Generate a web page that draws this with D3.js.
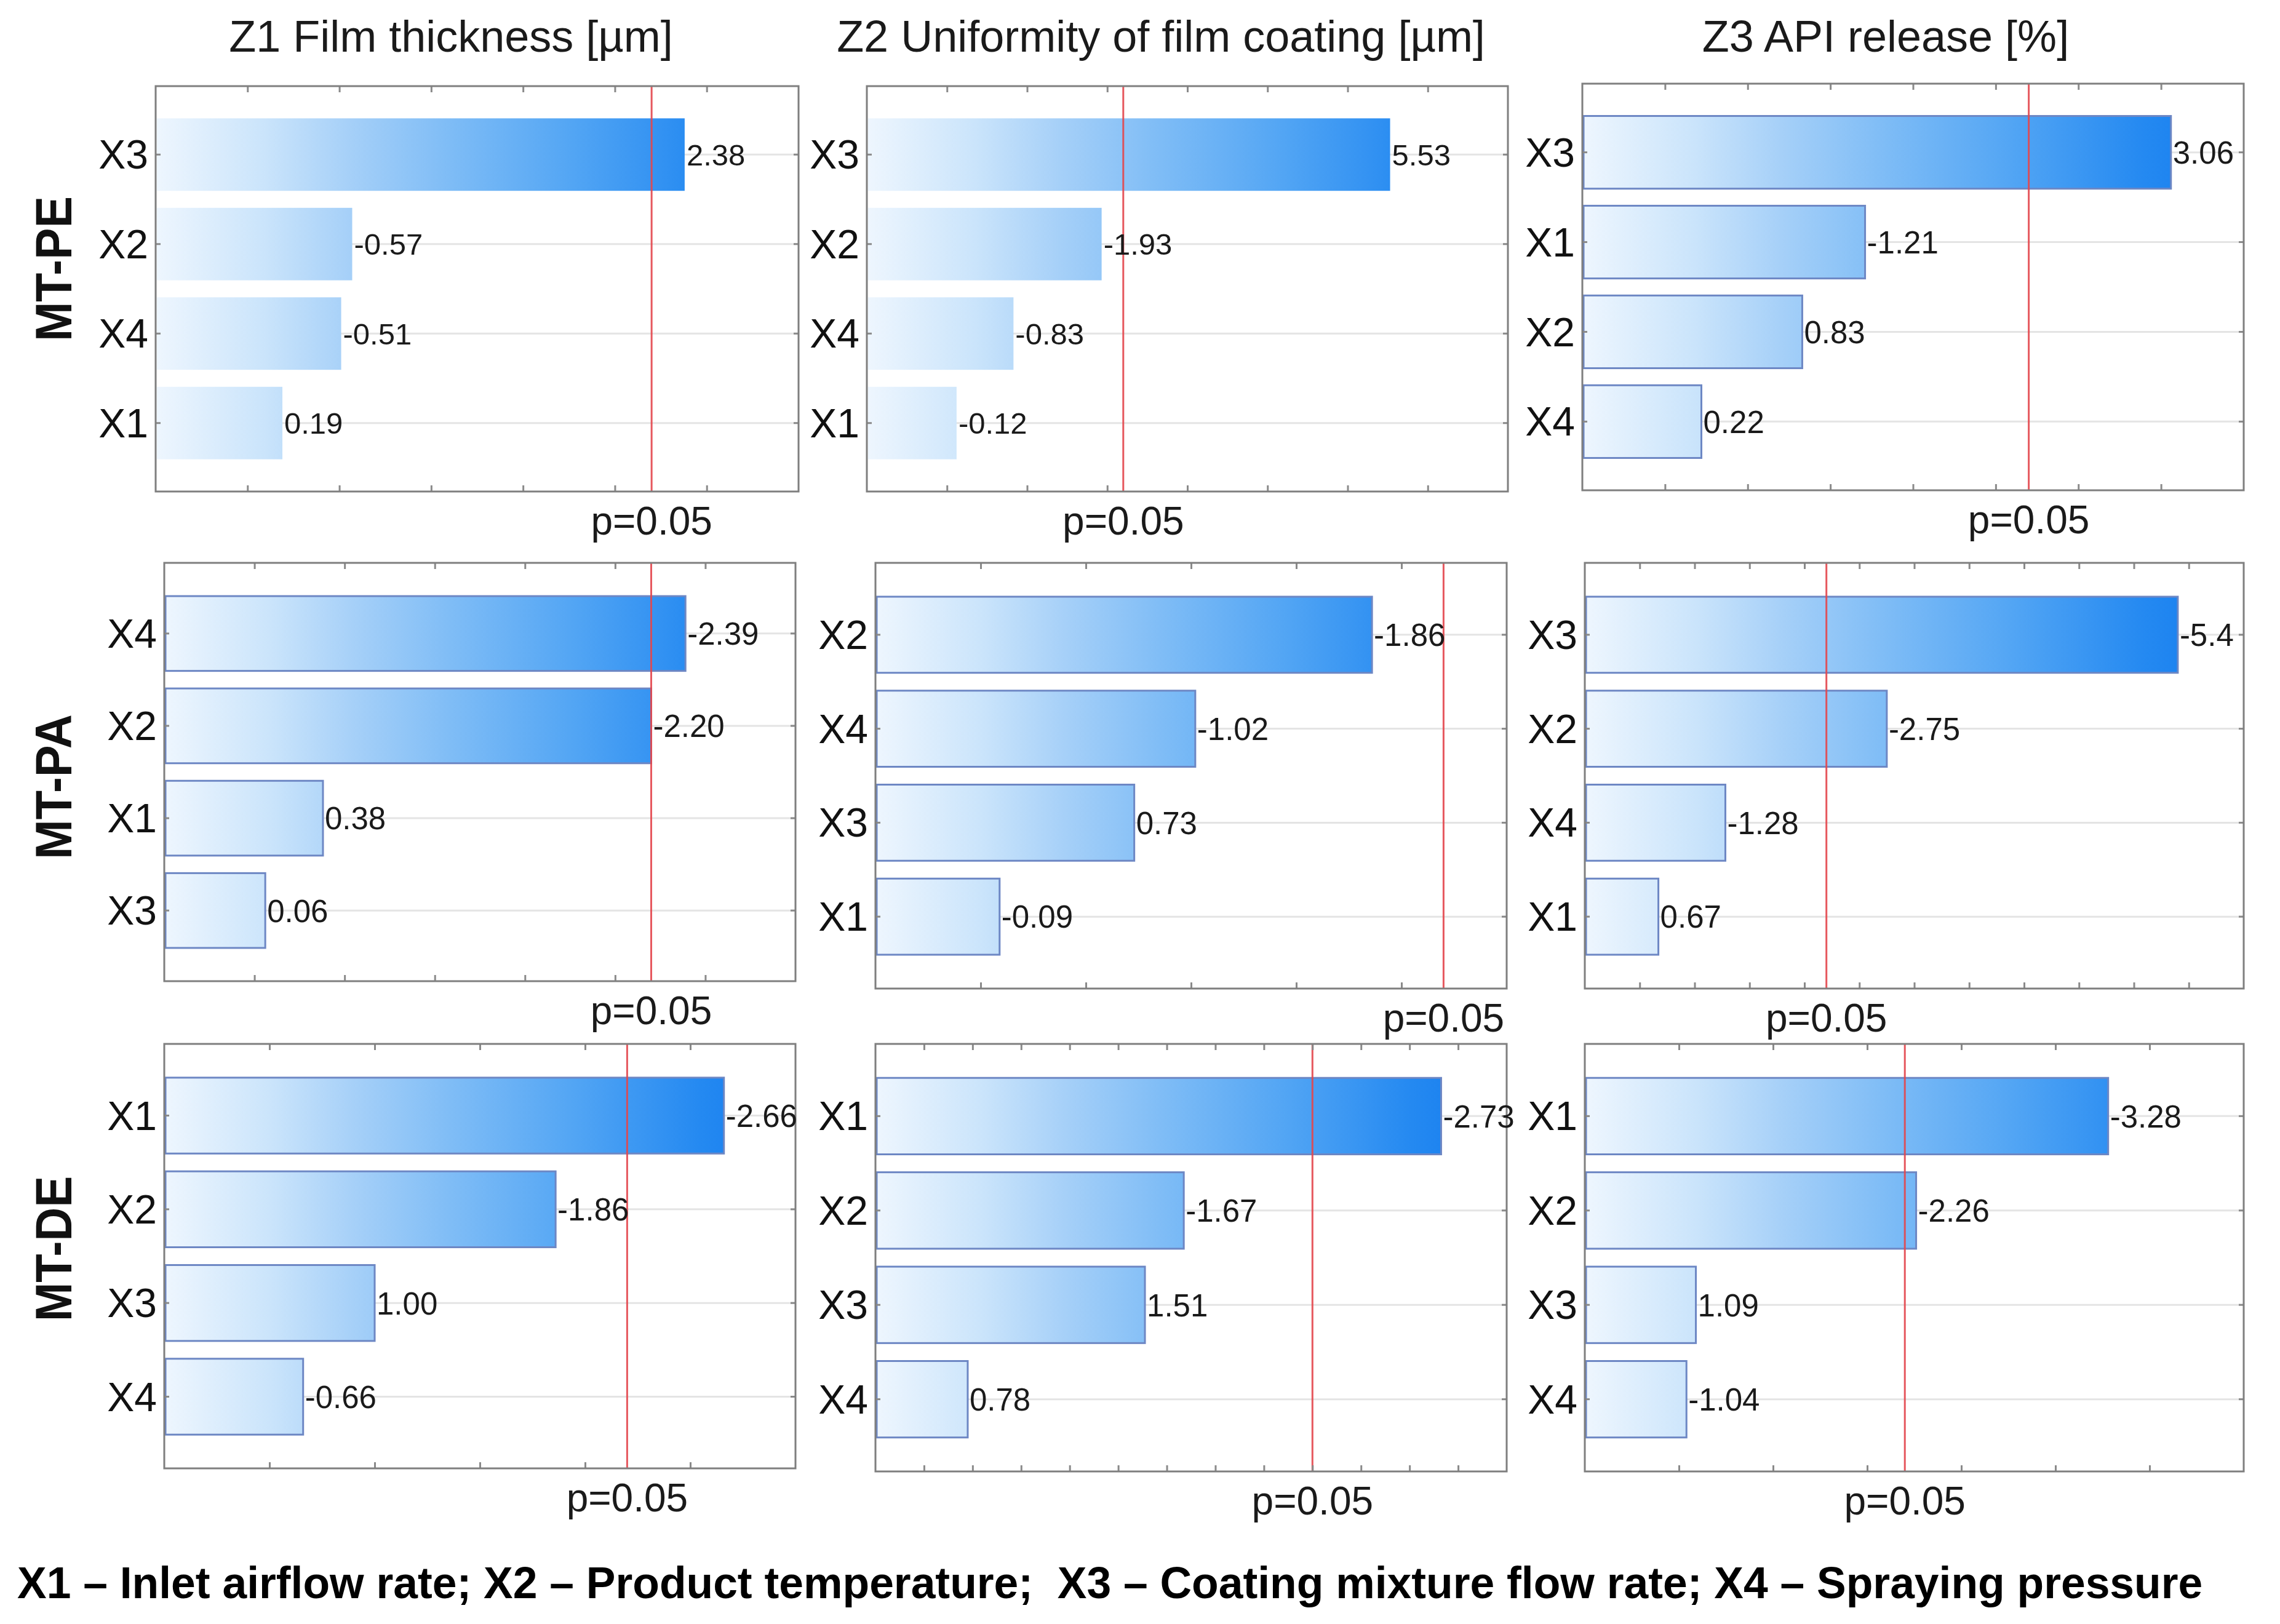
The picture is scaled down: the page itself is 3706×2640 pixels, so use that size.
<!DOCTYPE html>
<html><head><meta charset="utf-8">
<script src="https://cdn.jsdelivr.net/npm/d3@7"></script>
<style>body{margin:0;background:#fff}</style>
</head><body>
<svg id="c" width="3706" height="2640" xmlns="http://www.w3.org/2000/svg"></svg>
<script>
// ---------------- data ----------------
const rowNames = ["MT-PE", "MT-PA", "MT-DE"];
const colTitles = ["Z1 Film thickness [µm]", "Z2 Uniformity of film coating [µm]", "Z3 API release [%]"];

const factors_PE_Z1 = ["X3", "X2", "X4", "X1"];
const effects_PE_Z1 = [2.38, -0.57, -0.51, 0.19];
const factors_PE_Z2 = ["X3", "X2", "X4", "X1"];
const effects_PE_Z2 = [5.53, -1.93, -0.83, -0.12];
const factors_PE_Z3 = ["X3", "X1", "X2", "X4"];
const effects_PE_Z3 = [3.06, -1.21, 0.83, 0.22];

const factors_PA_Z1 = ["X4", "X2", "X1", "X3"];
const effects_PA_Z1 = [-2.39, -2.20, 0.38, 0.06];
const factors_PA_Z2 = ["X2", "X4", "X3", "X1"];
const effects_PA_Z2 = [-1.86, -1.02, 0.73, -0.09];
const factors_PA_Z3 = ["X3", "X2", "X4", "X1"];
const effects_PA_Z3 = [-5.4, -2.75, -1.28, 0.67];

const factors_DE_Z1 = ["X1", "X2", "X3", "X4"];
const effects_DE_Z1 = [-2.66, -1.86, 1.00, -0.66];
const factors_DE_Z2 = ["X1", "X2", "X3", "X4"];
const effects_DE_Z2 = [-2.73, -1.67, 1.51, 0.78];
const factors_DE_Z3 = ["X1", "X2", "X3", "X4"];
const effects_DE_Z3 = [-3.28, -2.26, 1.09, -1.04];

// axis ranges (absolute standardized effect) and tick steps, row-major
const axisMin  = [-0.5, -1, -0.5,  -0.5, -0.5, 0,    0,   0.4, 0.5];
const axisMax  = [ 3,    7,  3.5,   3,    2.5, 6,    3,   3.0, 4.0];
const tickStep = [ 0.5,  1,  0.5,   0.5,  0.5, 0.5,  0.5, 0.2, 0.5];

const pCritical = 2.20;
const pLabel = "p=0.05";
const legendText = "X1 \u2013 Inlet airflow rate; X2 \u2013 Product temperature;  X3 \u2013 Coating mixture flow rate; X4 \u2013 Spraying pressure";

const panels = [
  [factors_PE_Z1, effects_PE_Z1], [factors_PE_Z2, effects_PE_Z2], [factors_PE_Z3, effects_PE_Z3],
  [factors_PA_Z1, effects_PA_Z1], [factors_PA_Z2, effects_PA_Z2], [factors_PA_Z3, effects_PA_Z3],
  [factors_DE_Z1, effects_DE_Z1], [factors_DE_Z2, effects_DE_Z2], [factors_DE_Z3, effects_DE_Z3]
];

// ---------------- layout ----------------
const boxes = [
  {x0: 253,  x1: 1298, y0: 140,  y1: 799},
  {x0: 1409, x1: 2451, y0: 140,  y1: 799},
  {x0: 2572, x1: 3647, y0: 136,  y1: 797},
  {x0: 267,  x1: 1293, y0: 915,  y1: 1595},
  {x0: 1423, x1: 2449, y0: 915,  y1: 1607},
  {x0: 2576, x1: 3647, y0: 915,  y1: 1607},
  {x0: 267,  x1: 1293, y0: 1697, y1: 2387},
  {x0: 1423, x1: 2449, y0: 1697, y1: 2392},
  {x0: 2576, x1: 3647, y0: 1697, y1: 2392}
];
const FONT = "'Liberation Sans', Arial, Helvetica, sans-serif";

const svg = d3.select("#c");
svg.append("rect").attr("width", 3706).attr("height", 2640).attr("fill", "#ffffff");
const defs = svg.append("defs");

const gradStops = [
  [0, "#eef6fe"], [0.17, "#cae4fb"], [0.3, "#a6d0f8"], [0.45, "#80bdf6"],
  [0.65, "#52a5f4"], [0.85, "#2489f1"], [1, "#1179ee"]
];

panels.forEach(([factors, effects], i) => {
  const b = boxes[i];
  const row = Math.floor(i / 3), col = i % 3;
  const x = d3.scaleLinear().domain([axisMin[i], axisMax[i]]).range([b.x0, b.x1]);
  const y = d3.scaleBand().domain(factors).range([b.y0, b.y1]).paddingInner(0.19).paddingOuter(0.36);
  const g = svg.append("g");

  const gid = "grad" + i;
  const grad = defs.append("linearGradient").attr("id", gid)
    .attr("gradientUnits", "userSpaceOnUse")
    .attr("x1", b.x0).attr("x2", b.x1).attr("y1", 0).attr("y2", 0);
  gradStops.forEach(s => grad.append("stop").attr("offset", s[0]).attr("stop-color", s[1]));

  // horizontal grid at category centres
  g.append("g").selectAll("line").data(factors).join("line")
    .attr("x1", b.x0).attr("x2", b.x1)
    .attr("y1", d => y(d) + y.bandwidth() / 2).attr("y2", d => y(d) + y.bandwidth() / 2)
    .attr("stroke", "#e4e4e4").attr("stroke-width", 3);

  // bars
  const hasStroke = !(row === 0 && col < 2);
  const data = factors.map((f, k) => ({f, v: effects[k]}));
  g.append("g").selectAll("rect").data(data).join("rect")
    .attr("x", x(axisMin[i]) + 2)
    .attr("y", d => y(d.f))
    .attr("width", d => x(Math.abs(d.v)) - x(axisMin[i]) - 2)
    .attr("height", y.bandwidth())
    .attr("fill", `url(#${gid})`)
    .attr("stroke", hasStroke ? "#6d87c4" : "none")
    .attr("stroke-width", 3);

  // critical value line
  g.append("line")
    .attr("x1", x(pCritical)).attr("x2", x(pCritical))
    .attr("y1", b.y0).attr("y2", b.y1)
    .attr("stroke", "#e4474d").attr("stroke-width", 3).attr("opacity", 0.9);

  // ticks (top / bottom) via d3 axes
  const st = tickStep[i];
  const major = d3.range(Math.ceil(axisMin[i] / st - 1e-6), Math.floor(axisMax[i] / st + 1e-6) + 1)
    .map(k => +(k * st).toFixed(4)).filter(v => v > axisMin[i] + 1e-6 && v < axisMax[i] - 1e-6);

  const styleAxis = sel => { sel.select(".domain").remove(); sel.selectAll("line").attr("stroke", "#8a8a8a").attr("stroke-width", 3); sel.selectAll("text").remove(); };
  g.append("g").attr("transform", `translate(0,${b.y0})`)
    .call(d3.axisTop(x).tickValues(major).tickSizeInner(-10).tickSizeOuter(0).tickFormat("")).call(styleAxis);
  g.append("g").attr("transform", `translate(0,${b.y1})`)
    .call(d3.axisBottom(x).tickValues(major).tickSizeInner(-10).tickSizeOuter(0).tickFormat("")).call(styleAxis);
  g.append("g").attr("transform", `translate(${b.x1},0)`)
    .call(d3.axisRight(y).tickSizeInner(-8).tickSizeOuter(0).tickFormat("")).call(styleAxis);

  // category axis (left) with labels
  const ax = g.append("g").attr("transform", `translate(${b.x0},0)`)
    .call(d3.axisLeft(y).tickSizeInner(-8).tickSizeOuter(0).tickPadding(12));
  ax.select(".domain").remove();
  ax.selectAll("line").attr("stroke", "#8a8a8a").attr("stroke-width", 3);
  ax.selectAll("text").attr("font-family", FONT).attr("font-size", 66).attr("fill", "#111").attr("dy", "0.35em");

  // frame
  g.append("rect").attr("x", b.x0).attr("y", b.y0).attr("width", b.x1 - b.x0).attr("height", b.y1 - b.y0)
    .attr("fill", "none").attr("stroke", "#7f7f7f").attr("stroke-width", 3);

  // value labels
  const vfs = (row === 0 && col < 2) ? 49 : 51;
  g.append("g").selectAll("text").data(data).join("text")
    .attr("x", d => x(Math.abs(d.v)) + 3)
    .attr("y", d => y(d.f) + y.bandwidth() / 2)
    .attr("dy", "0.36em")
    .attr("font-family", FONT).attr("font-size", vfs).attr("fill", "#1a1a1a")
    .text(d => Math.abs(d.v) >= 5 && Math.abs(d.v * 10 - Math.round(d.v * 10)) < 1e-9 ? d.v.toFixed(1) : d.v.toFixed(2));

  // p label
  g.append("text").attr("x", x(pCritical)).attr("y", b.y1 + 70)
    .attr("text-anchor", "middle").attr("font-family", FONT).attr("font-size", 64).attr("fill", "#1a1a1a")
    .text(pLabel);
});

// column titles
const titleX = [733, 1887, 3065];
svg.append("g").selectAll("text").data(colTitles).join("text")
  .attr("x", (d, k) => titleX[k]).attr("y", 84)
  .attr("text-anchor", "middle").attr("font-family", FONT).attr("font-size", 72).attr("fill", "#1a1a1a")
  .text(d => d);

// row labels
const rowY = [437, 1279, 2030];
svg.append("g").selectAll("text").data(rowNames).join("text")
  .attr("transform", (d, k) => `translate(116,${rowY[k]}) rotate(-90)`)
  .attr("text-anchor", "middle").attr("font-family", FONT).attr("font-weight", "bold")
  .attr("font-size", 84).attr("textLength", 236).attr("lengthAdjust", "spacingAndGlyphs")
  .attr("fill", "#111").text(d => d);

// legend (horizontally condensed to the reference width)
const leg = svg.append("text").attr("x", 0).attr("y", 0)
  .attr("font-family", FONT).attr("font-weight", "bold").attr("font-size", 72)
  .attr("xml:space", "preserve").style("white-space", "pre").attr("fill", "#000").text(legendText);
const natural = leg.node().getComputedTextLength();
const sx = 3553 / natural;
leg.attr("transform", `translate(28,2598) scale(${sx},1)`);
</script>
</body></html>
